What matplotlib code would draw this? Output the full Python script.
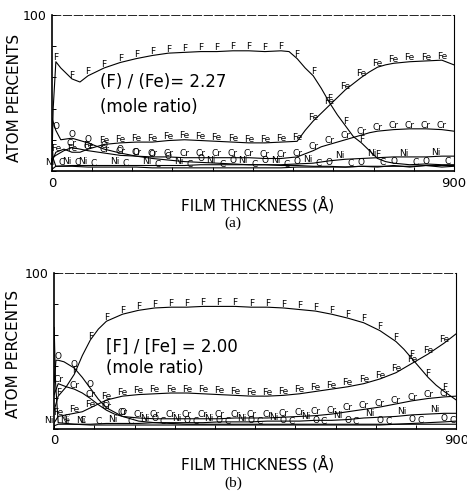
import matplotlib
matplotlib.use("Agg")
import matplotlib.pyplot as plt
import numpy as np

plt.rcParams['font.family'] = ['DejaVu Sans']

# ---- panel (a): [F]/[Fe] = 2.27 ----
xa_F = [0, 3, 9, 20, 45, 63, 81, 117, 153, 189, 225, 261, 297, 333, 369, 405, 441, 477, 513,
        531, 549, 567, 585, 603, 621, 639, 657, 675, 693, 711, 729, 747, 765, 801, 837, 873, 900]
ya_F = [4, 40, 70, 66, 59, 57, 61, 66, 69.5, 72, 74, 75.5, 76, 76.5, 76.5, 77, 77, 76.5, 77,
        76.5, 72, 66, 61, 53, 44, 36, 29, 22, 18, 13, 8, 6, 5, 4, 4.5, 4, 4]

xa_Fe = [0, 9, 27, 45, 63, 81, 117, 153, 189, 225, 261, 297, 333, 369, 405, 441, 477, 513,
         549, 567, 585, 603, 621, 639, 657, 675, 693, 711, 729, 747, 765, 801, 837, 873, 900]
ya_Fe = [6, 12, 14, 12, 12, 14, 17, 18, 18.5, 18.5, 19.5, 20, 19.5, 19, 18.5, 18, 18, 18.5,
         19, 26, 32, 37, 42, 47, 52, 56, 60, 63.5, 66.5, 68, 69, 70, 70.5, 71, 68]

xa_Cr = [0, 9, 27, 45, 81, 117, 153, 189, 225, 261, 297, 333, 369, 405, 441, 477, 513,
         549, 567, 585, 603, 621, 639, 657, 675, 693, 711, 729, 765, 801, 837, 873, 900]
ya_Cr = [8, 10, 13, 15, 13, 11.5, 10, 9.5, 9, 9, 8.5, 8.5, 8.5, 8.5, 8.5, 8, 8,
         9, 11, 13, 15.5, 17, 18.5, 20, 21.5, 23, 24.5, 25.5, 26.5, 27, 27, 26.5, 25.5]

xa_O = [0, 9, 20, 45, 81, 117, 153, 189, 225, 261, 297, 333, 369, 405, 441, 477, 513,
        549, 585, 621, 657, 693, 729, 765, 801, 837, 873, 900]
ya_O = [34, 26, 20, 21, 18, 14, 11.5, 9.5, 8, 7, 6, 5.5, 5, 4.5, 4, 4, 3.5,
        3.5, 3, 3, 2.5, 3, 2.5, 3.5, 2.5, 3.5, 2.5, 3]

xa_Ni = [0, 9, 45, 81, 117, 153, 189, 225, 261, 297, 333, 369, 405, 441, 477, 513,
         549, 585, 621, 657, 693, 729, 765, 801, 837, 873, 900]
ya_Ni = [1, 3, 3.5, 3.5, 3.5, 3.5, 3.5, 3.5, 3.5, 3.5, 4, 4, 4, 4, 4, 4,
         4.5, 5, 6.5, 7.5, 8, 8.5, 9, 9, 9, 9.5, 9.5]

xa_C = [0, 3, 9, 45, 81, 117, 153, 189, 225, 261, 297, 333, 369, 405, 441, 477, 513,
        549, 585, 621, 657, 693, 729, 765, 801, 837, 873, 900]
ya_C = [20, 8, 3, 3, 2.5, 2.5, 2.5, 2.5, 2, 2, 2, 2, 2, 2, 2, 2, 2,
        2.5, 2.5, 2.5, 2.5, 3, 3, 3, 3, 3.5, 3.5, 3.5]

# ---- panel (b): [F]/[Fe] = 2.00 ----
xb_F = [0, 9, 27, 45, 63, 81, 99, 117, 153, 189, 225, 261, 297, 333, 369, 405, 441, 477, 513,
        549, 585, 621, 657, 693, 729, 765, 783, 801, 819, 837, 855, 873, 900]
yb_F = [12, 21, 27, 35, 47, 57, 64, 69, 73.5, 76, 77.5, 78, 78, 78.5, 78.5, 78.5, 78, 78, 77.5,
        76.5, 75.5, 73.5, 71, 68, 63, 56, 51, 45, 39, 33, 28, 24, 18.5]

xb_Fe = [0, 9, 45, 63, 81, 99, 117, 153, 189, 225, 261, 297, 333, 369, 405, 441, 477, 513,
         549, 585, 621, 657, 693, 729, 765, 801, 837, 873, 900]
yb_Fe = [4, 8, 10, 11, 13.5, 16, 18.5, 21, 22, 22.5, 23, 23, 22.5, 22, 21.5, 21, 21, 21.5,
         22.5, 24, 25.5, 27, 29, 32, 36, 42, 48, 55, 61]

xb_O = [0, 4, 9, 22, 45, 63, 81, 99, 117, 153, 189, 225, 261, 297, 333, 369, 405, 441, 477, 513,
        549, 585, 621, 657, 693, 729, 765, 801, 837, 873, 900]
yb_O = [30, 44, 44, 43, 39, 33, 26, 19, 13.5, 8, 5, 4, 3.5, 3, 3, 3, 3, 3, 3, 3,
        3, 3, 3, 3, 3, 3, 3, 3.5, 4, 4.5, 5]

xb_Cr = [0, 9, 27, 45, 63, 81, 99, 117, 135, 153, 189, 225, 261, 297, 333, 369, 405, 441, 477, 513,
         549, 585, 621, 657, 693, 729, 765, 801, 837, 873, 900]
yb_Cr = [22, 29, 27, 25.5, 23, 19.5, 15.5, 12, 9.5, 8, 7, 6.5, 6.5, 6.5, 6.5, 6.5, 7, 7, 7, 7.5,
         8, 8.5, 9.5, 11, 12.5, 14, 16, 18, 19.5, 20.5, 21]

xb_Ni = [0, 9, 45, 81, 117, 153, 189, 225, 261, 297, 333, 369, 405, 441, 477, 513,
         549, 585, 621, 657, 693, 729, 765, 801, 837, 873, 900]
yb_Ni = [2, 3, 3, 3, 3.5, 3.5, 3.5, 4, 4, 4, 4, 4.5, 4.5, 4.5, 5, 5,
         5, 5.5, 5.5, 6, 7, 7.5, 8, 9, 9.5, 10, 10]

xb_C = [0, 3, 9, 45, 81, 117, 153, 189, 225, 261, 297, 333, 369, 405, 441, 477, 513,
        549, 585, 621, 657, 693, 729, 765, 801, 837, 873, 900]
yb_C = [65, 30, 4, 3, 2.5, 2.5, 2.5, 2.5, 2.5, 2.5, 2.5, 2.5, 2.5, 2.5, 2.5, 2.5, 2.5,
        2.5, 2.5, 2.5, 2.5, 2.5, 2.5, 3, 3, 3, 3, 3]

x_ticks = np.arange(0, 901, 90)
y_ticks = np.arange(0, 101, 20)


def curve(ax, x, y, sym, lo=9, hi=873, dx=0, sparse_from=None, phase=0):
    ax.plot(x, y, color='k', lw=0.8, zorder=3)
    for xi, yi in zip(x, y):
        if (xi - 9) % 36 != 0 or not (lo <= xi <= hi):
            continue
        k = (xi - 9) // 36
        if sparse_from is not None and xi >= sparse_from and k % 2 != phase:
            continue
        ax.annotate(sym, (xi, yi), xytext=(dx, -0.5), textcoords='offset points',
                    ha='center', va='bottom', fontsize=6.5, zorder=4,
                    annotation_clip=False)


def frame(ax, ratio_text, xl, yl):
    ax.set_xlim(0, 900)
    ax.set_ylim(0, 100)
    ax.set_xticks(x_ticks)
    ax.set_xticklabels(['0'] + [''] * (len(x_ticks) - 2) + ['900'], fontsize=9.5)
    ax.set_yticks(y_ticks)
    ax.set_yticklabels([''] * (len(y_ticks) - 1) + ['100'], fontsize=9)
    ax.tick_params(direction='in', length=3, width=0.7, pad=4)
    for s in ['left', 'bottom']:
        ax.spines[s].set_linewidth(1.2)
    ax.spines['right'].set_linewidth(0.8)
    ax.spines['top'].set_linewidth(0.6)
    ax.spines['top'].set_linestyle((0, (10, 3)))
    ax.set_xlabel('FILM THICKNESS (Å)', fontsize=11)
    ax.xaxis.set_label_coords(xl[0], xl[1])
    ax.set_ylabel('ATOM PERCENTS', fontsize=11)
    ax.yaxis.set_label_coords(yl[0], yl[1])
    ax.text(ratio_text[1], ratio_text[2], ratio_text[0], fontsize=12, va='center')
    ax.text(ratio_text[1], ratio_text[3], '(mole ratio)', fontsize=12, va='center')


fig = plt.figure(figsize=(4.67, 4.97), dpi=100)
ax1 = fig.add_axes([0.111, 0.656, 0.861, 0.314])
ax2 = fig.add_axes([0.116, 0.137, 0.861, 0.314])

curve(ax1, xa_F, ya_F, 'F', hi=729)
curve(ax1, xa_Fe, ya_Fe, 'Fe')
curve(ax1, xa_Cr, ya_Cr, 'Cr', lo=45)
curve(ax1, xa_O, ya_O, 'O', sparse_from=230, phase=1)
curve(ax1, xa_Ni, ya_Ni, 'Ni', dx=-4, sparse_from=100, phase=0)
curve(ax1, xa_C, ya_C, 'C', dx=4, sparse_from=100, phase=0)
frame(ax1, ('(F) / (Fe)= 2.27', 107, 57, 41), (0.512, -0.16), (-0.075, 0.47))

curve(ax2, xb_F, yb_F, 'F')
curve(ax2, xb_Fe, yb_Fe, 'Fe')
curve(ax2, xb_O, yb_O, 'O', sparse_from=170, phase=0)
curve(ax2, xb_Cr, yb_Cr, 'Cr')
curve(ax2, xb_Ni, yb_Ni, 'Ni', dx=-7, sparse_from=100, phase=0)
curve(ax2, xb_C, yb_C, 'C', dx=6, sparse_from=100, phase=0)
frame(ax2, ('[F] / [Fe] = 2.00', 116, 52.6, 39), (0.505, -0.167), (-0.082, 0.48))

fig.text(0.499, 1 - 223 / 497, '(a)', family='Liberation Serif', fontsize=11,
         ha='center', va='center')
fig.text(0.499, 1 - 483 / 497, '(b)', family='Liberation Serif', fontsize=11,
         ha='center', va='center')

fig.savefig('out.png', dpi=100)
